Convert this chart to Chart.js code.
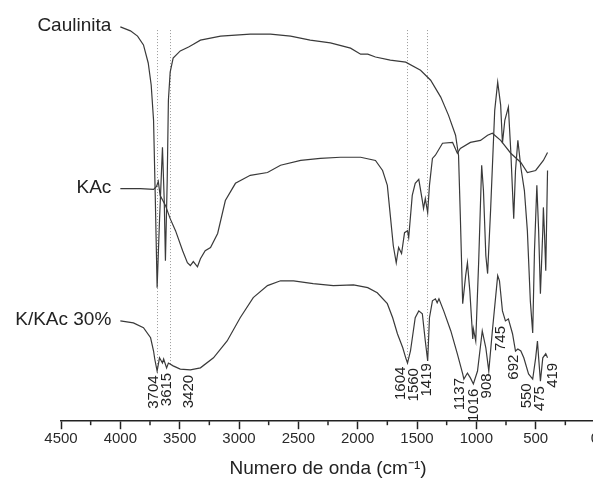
<!DOCTYPE html>
<html>
<head>
<meta charset="utf-8">
<script src="https://cdn.jsdelivr.net/npm/chart.js@4.4.1/dist/chart.umd.min.js"></script>
<style>
  html, body { margin: 0; padding: 0; background: #fff; overflow: hidden; }
  #wrap { position: relative; width: 612px; height: 482px; }
</style>
</head>
<body>
<div id="wrap"><canvas id="ftir-chart"></canvas></div>
<script>
// FTIR spectra, transmittance in arbitrary units (curves offset for clarity)
var seriesNames = ['Caulinita', 'KAc', 'K/KAc 30%'];

var wnCaulinita = [4000, 3915, 3855, 3805, 3765, 3740, 3720, 3705, 3690, 3670, 3645, 3630, 3620, 3605, 3595, 3580, 3555, 3495, 3425, 3395, 3325, 3155, 2905, 2735, 2565, 2400, 2230, 2060, 1975, 1915, 1850, 1725, 1595, 1470, 1385, 1300, 1235, 1175, 1150, 1135, 1115, 1090, 1075, 1055, 1030, 1025, 1005, 980, 955, 940, 920, 905, 880, 845, 820, 795, 780, 760, 730, 710, 685, 670, 650, 625, 595, 570, 545, 525, 510, 490, 475, 460, 440, 435, 425, 415, 400];
var tCaulinita = [98.3, 97.3, 96.0, 93.8, 89.3, 83.8, 75.0, 55.0, 33.3, 50.0, 68.3, 55.0, 40.0, 60.0, 80.0, 87.0, 90.5, 92.3, 93.3, 93.8, 95.0, 96.0, 96.5, 96.5, 96.0, 95.0, 94.3, 93.0, 91.5, 91.5, 90.8, 90.0, 89.5, 87.5, 85.0, 80.8, 76.3, 71.3, 66.3, 51.3, 29.3, 36.3, 39.5, 32.5, 20.5, 23.0, 20.0, 40.0, 63.8, 57.5, 41.3, 36.8, 52.5, 77.5, 84.5, 78.8, 69.3, 75.0, 78.3, 67.5, 50.5, 62.5, 70.0, 63.3, 57.5, 47.5, 30.0, 22.0, 42.5, 58.8, 47.5, 31.8, 47.5, 53.3, 46.3, 37.5, 62.5];

var wnKAc = [4000, 3830, 3720, 3695, 3680, 3665, 3620, 3580, 3535, 3475, 3435, 3410, 3385, 3350, 3325, 3285, 3240, 3180, 3115, 3030, 2905, 2760, 2650, 2480, 2315, 2145, 1975, 1850, 1790, 1750, 1725, 1700, 1675, 1655, 1630, 1605, 1580, 1570, 1540, 1515, 1485, 1455, 1445, 1430, 1410, 1395, 1370, 1345, 1285, 1200, 1160, 1135, 1050, 965, 905, 865, 795, 710, 625, 570, 500, 435, 400];
var tKAc = [58.0, 58.0, 57.8, 58.5, 59.8, 56.3, 53.8, 50.5, 47.5, 42.5, 39.5, 38.8, 39.8, 38.5, 40.5, 42.5, 43.3, 46.8, 55.0, 59.3, 61.3, 62.0, 63.8, 65.0, 65.5, 65.8, 65.8, 65.0, 62.5, 58.8, 51.3, 43.8, 39.5, 43.3, 41.8, 47.0, 47.5, 45.8, 56.3, 59.3, 60.3, 55.0, 53.0, 55.5, 52.0, 58.8, 65.5, 66.3, 69.3, 69.5, 66.8, 68.0, 69.5, 70.0, 71.3, 71.8, 70.0, 66.8, 64.5, 62.0, 62.5, 65.0, 67.0];

var wnMix = [4000, 3890, 3805, 3745, 3720, 3710, 3690, 3670, 3645, 3635, 3610, 3595, 3555, 3495, 3410, 3325, 3215, 3100, 2990, 2880, 2760, 2650, 2540, 2375, 2205, 2035, 1915, 1835, 1750, 1705, 1665, 1620, 1595, 1580, 1555, 1515, 1485, 1455, 1430, 1410, 1395, 1370, 1345, 1330, 1315, 1275, 1215, 1160, 1115, 1105, 1075, 1050, 1025, 990, 950, 920, 895, 865, 820, 805, 780, 755, 730, 695, 670, 650, 625, 600, 560, 525, 500, 485, 475, 460, 440, 415, 400];
var tMix = [25.0, 24.5, 23.3, 20.8, 17.5, 15.5, 12.5, 15.8, 14.5, 15.5, 13.3, 14.5, 13.8, 13.0, 12.8, 13.3, 15.8, 20.0, 25.8, 30.8, 33.8, 35.0, 35.0, 34.3, 33.8, 34.0, 33.3, 32.0, 29.3, 25.8, 21.8, 18.3, 15.8, 14.5, 17.5, 25.8, 27.5, 26.8, 20.0, 15.0, 25.8, 30.0, 30.5, 29.5, 30.5, 27.5, 22.5, 16.8, 11.8, 10.5, 12.0, 10.8, 9.3, 12.5, 22.5, 18.3, 12.5, 22.5, 36.3, 35.0, 27.5, 25.0, 25.5, 21.8, 17.5, 18.0, 17.5, 15.8, 11.8, 10.5, 15.8, 20.0, 15.8, 10.0, 15.8, 16.8, 15.8];

// band assignments written under the K/KAc curve
var peakLabels = ['3704', '3615', '3420', '1604', '1560', '1419', '1137', '1016', '908', '745', '692', '550', '475', '419'];
// dotted guide lines
var guideLines = [3690, 3580, 1585, 1415];

var xTicks = { min: 0, max: 4500, step: 500 };

function toPoints(xs, ys) {
    return xs.map(function (x, i) { return { x: x, y: ys[i] }; });
}

// linear interpolation on a descending wavenumber array
function interp(xs, ys, x) {
    for (var i = 0; i < xs.length - 1; i++) {
        if (x <= xs[i] && x >= xs[i + 1]) {
            var f = (xs[i] - x) / (xs[i] - xs[i + 1]);
            return ys[i] + f * (ys[i + 1] - ys[i]);
        }
    }
    return ys[ys.length - 1];
}

var lineColor = '#3a3a3a';
var textFont = '"Liberation Sans", Arial, sans-serif';

function spectrum(name, xs, ys) {
    return {
        label: name,
        data: toPoints(xs, ys),
        borderColor: lineColor,
        backgroundColor: lineColor,
        borderWidth: 1.2,
        pointRadius: 0,
        tension: 0,
        fill: false
    };
}

var annotations = {
    id: 'annotations',
    beforeDatasetsDraw: function (chart) {
        var ctx = chart.ctx, xs = chart.scales.x, ys = chart.scales.y;
        ctx.save();
        ctx.strokeStyle = '#9a9a9a';
        ctx.lineWidth = 1;
        ctx.setLineDash([1, 2]);
        guideLines.forEach(function (wn) {
            var px = Math.round(xs.getPixelForValue(wn)) + 0.5;
            ctx.beginPath();
            ctx.moveTo(px, ys.getPixelForValue(97.5));
            ctx.lineTo(px, ys.getPixelForValue(interp(wnMix, tMix, wn)) + 2);
            ctx.stroke();
        });
        ctx.restore();
    },
    afterDraw: function (chart) {
        var ctx = chart.ctx, xs = chart.scales.x, ys = chart.scales.y;
        ctx.save();

        // minor ticks
        ctx.strokeStyle = '#222';
        ctx.lineWidth = 1.5;
        for (var v = xTicks.min + xTicks.step / 2; v < xTicks.max; v += xTicks.step) {
            var mx = xs.getPixelForValue(v);
            ctx.beginPath();
            ctx.moveTo(mx, xs.top);
            ctx.lineTo(mx, xs.top + 4);
            ctx.stroke();
        }

        // series names at the start of each curve
        ctx.fillStyle = '#222';
        ctx.font = '19px ' + textFont;
        ctx.textAlign = 'right';
        ctx.textBaseline = 'middle';
        chart.data.datasets.forEach(function (ds) {
            var p = ds.data[0];
            ctx.fillText(ds.label, xs.getPixelForValue(p.x) - 9, ys.getPixelForValue(p.y) - 1);
        });

        // peak labels, rotated, just below the K/KAc curve
        ctx.font = '15px ' + textFont;
        var items = peakLabels.map(function (lab) {
            var wn = parseFloat(lab), low = Infinity;
            for (var d = -20; d <= 20; d += 5) {
                low = Math.min(low, interp(wnMix, tMix, wn + d));
            }
            return { text: lab, x: xs.getPixelForValue(wn), y: ys.getPixelForValue(low) + 5 };
        });
        items.sort(function (a, b) { return a.x - b.x; });
        for (var it = 0; it < 30; it++) {
            for (var i = 0; i < items.length - 1; i++) {
                var gap = items[i + 1].x - items[i].x;
                if (gap < 13) {
                    items[i].x -= (13 - gap) / 2;
                    items[i + 1].x += (13 - gap) / 2;
                }
            }
        }
        items.forEach(function (l) {
            ctx.save();
            ctx.translate(l.x, l.y);
            ctx.rotate(-Math.PI / 2);
            ctx.textAlign = 'right';
            ctx.textBaseline = 'middle';
            ctx.fillText(l.text, 0, 0);
            ctx.restore();
        });
        ctx.restore();
    }
};

var ctx = document.getElementById('ftir-chart').getContext('2d');
var myChart = new Chart(ctx, {
    type: 'line',
    data: {
        datasets: [
            spectrum(seriesNames[0], wnCaulinita, tCaulinita),
            spectrum(seriesNames[1], wnKAc, tKAc),
            spectrum(seriesNames[2], wnMix, tMix)
        ]
    },
    options: {
        responsive: true,
        maintainAspectRatio: false,
        animation: false,
        layout: { padding: { left: 61, right: 17, top: 0, bottom: 0 } },
        plugins: {
            legend: { display: false },
            tooltip: { enabled: false }
        },
        scales: {
            x: {
                type: 'linear',
                reverse: true,
                min: xTicks.min,
                max: xTicks.max,
                ticks: {
                    stepSize: xTicks.step,
                    color: '#2a2a2a',
                    font: { family: textFont, size: 15 },
                    padding: 1,
                    maxRotation: 0,
                    callback: function (value) { return String(value); }
                },
                grid: {
                    drawOnChartArea: false,
                    drawTicks: true,
                    tickLength: 8,
                    tickColor: '#222',
                    tickWidth: 1.5
                },
                border: { display: true, color: '#222', width: 1.5 },
                title: {
                    display: true,
                    text: 'Numero de onda (cm\u207B\u00B9)',
                    color: '#222',
                    font: { family: textFont, size: 19 },
                    padding: { top: 8, bottom: 2 }
                }
            },
            y: {
                display: false,
                min: 0,
                max: 105
            }
        }
    },
    plugins: [annotations]
});
</script>
</body>
</html>
